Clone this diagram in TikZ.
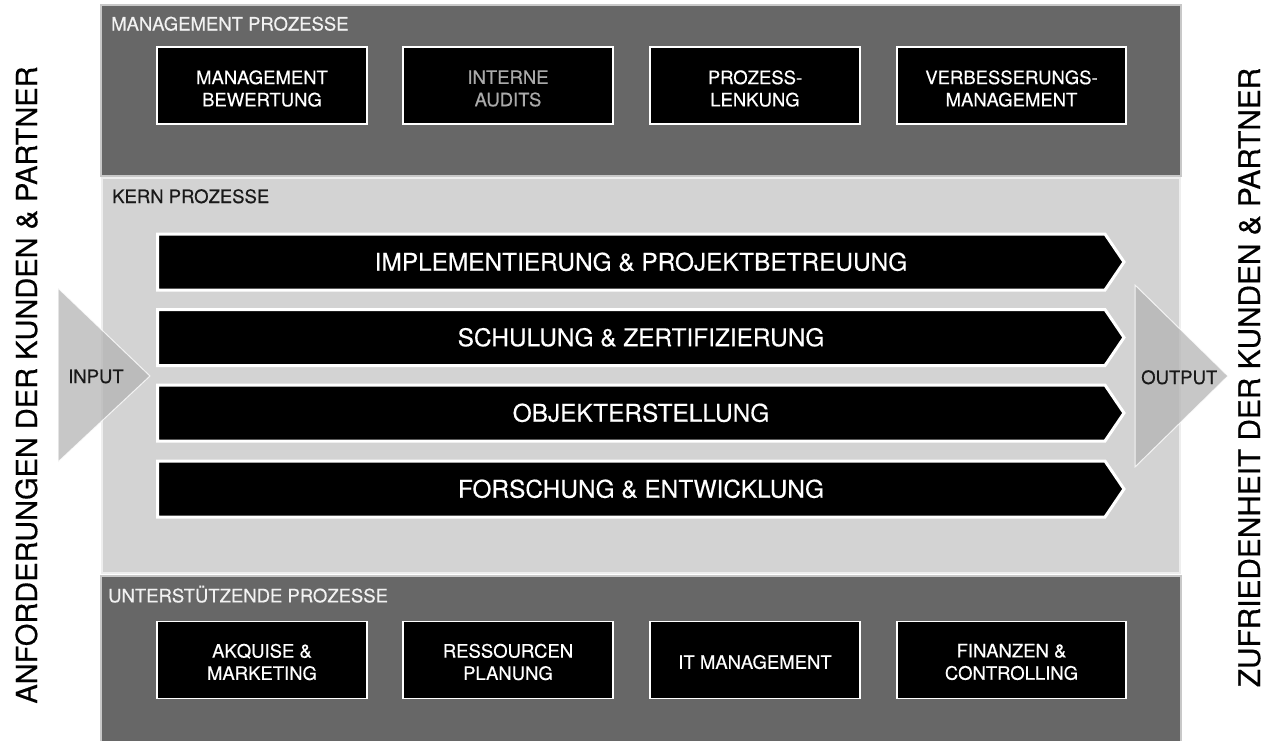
\documentclass[tikz,border=0pt]{standalone}
\usepackage{fontspec}
\setmainfont{TeX Gyre Heros}[FakeBold=0.35]
\definecolor{panelgray}{HTML}{676767}
\definecolor{panelline}{HTML}{C8C8C8}
\definecolor{kerngray}{HTML}{D3D3D3}
\definecolor{kernline}{HTML}{EEEEEE}
\definecolor{trigray}{HTML}{B3B3B3}
\definecolor{dimtext}{HTML}{AAAAAA}
\definecolor{titlewhite}{HTML}{F2F2F2}
\tikzset{
  panel/.style={fill=panelgray, draw=panelline, line width=1.5pt},
  kernpanel/.style={fill=kerngray, draw=kernline, line width=1.5pt},
  pbox/.style={fill=black, draw=white, line width=1.5pt, minimum width=210pt, minimum height=77pt, inner sep=0pt},
  btext/.style={text=white, font=\fontsize{18.5}{22.3}\selectfont, align=center, inner sep=0pt},
  ptitle/.style={font=\fontsize{18.5}{22}\selectfont, anchor=base west, inner sep=0pt},
  karrow/.style={fill=black, draw=white, line width=3pt, line join=miter},
  ktext/.style={text=white, font=\fontsize{24.4}{28}\selectfont, anchor=base, inner sep=0pt},
  tri/.style={fill=trigray, fill opacity=0.73, draw=white, draw opacity=0.8, line width=1pt},
  side/.style={rotate=90, anchor=base, inner sep=0pt, text=black}
}
\begin{document}
\begin{tikzpicture}[x=1pt,y=-1pt]
\useasboundingbox (0,0) rectangle (1269,740);
\fill[white] (0,0) rectangle (1269,740);

% panels
\draw[panel] (101,5) rectangle (1181,176);
\draw[kernpanel] (102,178) rectangle (1180,573);
\draw[panel] (101,576) rectangle (1181,745);

% input / output triangles
\draw[tri] (58,288) -- (150,376) -- (58,462) -- cycle;
\draw[tri] (1135,285) -- (1228,376) -- (1135,467) -- cycle;

% titles
\node[ptitle, text=titlewhite] (tm) at (111,30.5) {MANAGEMENT PROZESSE};
\node[ptitle, text=black!90] (tk) at (112,203) {KERN PROZESSE};
\node[ptitle, text=titlewhite] (tu) at (108,602.3) {UNTERSTÜTZENDE PROZESSE};

% management boxes
\node[pbox] (m1) at (262,85.5) {};
\node[pbox] (m2) at (508,85.5) {};
\node[pbox] (m3) at (755,85.5) {};
\node[pbox, minimum width=229pt] (m4) at (1011.5,85.5) {};
\node[btext] (m1t) at (262,88.5) {MANAGEMENT\\BEWERTUNG};
\node[btext, text=dimtext] (m2t) at (508,88.5) {INTERNE\\AUDITS};
\node[btext] (m3t) at (755,88.5) {PROZESS-\\LENKUNG};
\node[btext] (m4t) at (1011.5,88.5) {VERBESSERUNGS-\\MANAGEMENT};

% support boxes
\node[pbox] (u1) at (262,660) {};
\node[pbox] (u2) at (508,660) {};
\node[pbox] (u3) at (755,660) {};
\node[pbox, minimum width=229pt] (u4) at (1011.5,660) {};
\node[btext] (u1t) at (262,662) {AKQUISE \&\\MARKETING};
\node[btext] (u2t) at (508,662) {RESSOURCEN\\PLANUNG};
\node[btext] (u3t) at (755,662) {IT MANAGEMENT};
\node[btext] (u4t) at (1011.5,662) {FINANZEN \&\\CONTROLLING};

% core process arrows
\draw[karrow] (157.5,234) -- (1105,234) -- (1124,262) -- (1105,290) -- (157.5,290) -- cycle;
\draw[karrow] (157.5,309.5) -- (1105,309.5) -- (1124,337.5) -- (1105,365.5) -- (157.5,365.5) -- cycle;
\draw[karrow] (157.5,385) -- (1105,385) -- (1124,413) -- (1105,441) -- (157.5,441) -- cycle;
\draw[karrow] (157.5,461) -- (1105,461) -- (1124,489) -- (1105,517) -- (157.5,517) -- cycle;
\node[ktext] (k1) at (641,270.7) {IMPLEMENTIERUNG \& PROJEKTBETREUUNG};
\node[ktext] (k2) at (641,346.2) {SCHULUNG \& ZERTIFIZIERUNG};
\node[ktext] (k3) at (641,421.7) {OBJEKTERSTELLUNG};
\node[ktext] (k4) at (641,497.7) {FORSCHUNG \& ENTWICKLUNG};

% input / output labels
\node[ptitle, text=black!90] (in) at (68,383) {INPUT};
\node[ptitle, text=black!90] (out) at (1141,384) {OUTPUT};

% side texts
\node[side, font=\fontsize{29}{32}\selectfont] (req) at (37,385) {ANFORDERUNGEN DER KUNDEN \& PARTNER};
\node[side, font=\fontsize{29.8}{32}\selectfont] (sat) at (1260,377.5) {ZUFRIEDENHEIT DER KUNDEN \& PARTNER};
\end{tikzpicture}
\end{document}
